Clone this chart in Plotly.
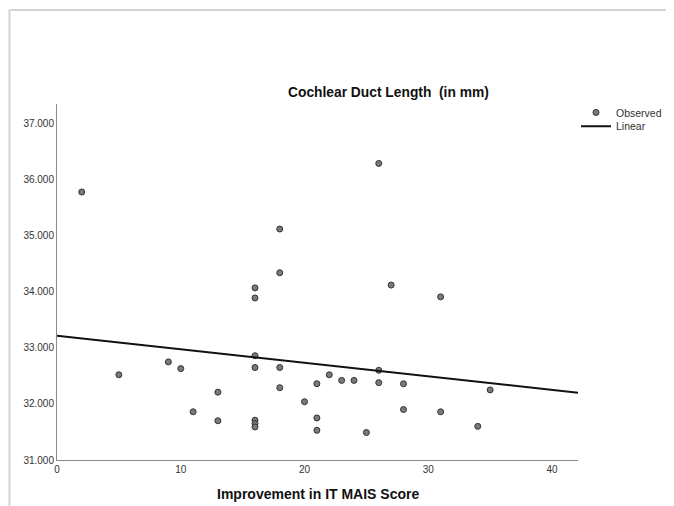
import plotly.graph_objects as go

# Observed data (Improvement in IT MAIS score vs cochlear duct length, mm)
improvement = [2, 18, 18, 16, 16, 16, 16, 18, 9, 10, 5, 13, 18, 20, 11, 13, 16, 16, 16,
               26, 27, 31, 26, 22, 21, 23, 24, 26, 28, 35, 21, 28, 31, 21, 25, 34]
duct_length = [35.78, 35.12, 34.34, 34.07, 33.89, 32.86, 32.65, 32.65, 32.75, 32.63, 32.52,
               32.21, 32.29, 32.04, 31.86, 31.70, 31.71, 31.65, 31.59,
               36.29, 34.12, 33.91, 32.60, 32.52, 32.36, 32.42, 32.42, 32.38, 32.36, 32.25,
               31.75, 31.90, 31.86, 31.53, 31.49, 31.60]

# Linear fit
fit_intercept = 33.215
fit_slope = -0.0241
fit_x = [0, 42.1]
fit_y = [fit_intercept + fit_slope * v for v in fit_x]

x_ticks = [0, 10, 20, 30, 40]
y_ticks = [31, 32, 33, 34, 35, 36, 37]

fig = go.Figure()
fig.add_trace(go.Scatter(
    x=improvement, y=duct_length, mode="markers", name="Observed", legend="legend",
    marker=dict(size=6, color="#7a7a7a", line=dict(color="#333333", width=1)),
))
fig.add_trace(go.Scatter(
    x=fit_x, y=fit_y, mode="lines", name="Linear", legend="legend2",
    line=dict(color="#111111", width=2),
))

legend_style = dict(xanchor="left", yanchor="top", font=dict(size=10.5, color="#333333"),
                    itemwidth=30, bgcolor="rgba(0,0,0,0)", borderwidth=0)

fig.update_layout(
    width=658, height=498,
    margin=dict(l=49, r=88, t=96, b=46, autoexpand=False),
    paper_bgcolor="white", plot_bgcolor="white",
    font=dict(family="Liberation Sans, Arial, sans-serif", size=10, color="#333333"),
    showlegend=True,
    legend=dict(x=0.9962, y=1.017, **legend_style),
    legend2=dict(x=0.9962, y=0.978, **legend_style),
    xaxis=dict(range=[0, 42.1], tickvals=x_ticks, showgrid=False, zeroline=False,
               showline=True, linecolor="#8a8a8a", linewidth=1, ticks="",
               tickfont=dict(size=10, color="#333333")),
    yaxis=dict(range=[31, 37.35], tickvals=y_ticks, tickformat=".3f", showgrid=False,
               zeroline=False, showline=True, linecolor="#8a8a8a", linewidth=1, ticks="",
               tickfont=dict(size=10, color="#333333")),
    annotations=[
        dict(text="<b>Cochlear Duct Length  (in mm)</b>", xref="paper", yref="paper",
             x=0.637, y=1.031, xanchor="center", yanchor="middle", showarrow=False,
             font=dict(size=13.8, color="#111111")),
        dict(text="<b>Improvement in IT MAIS Score</b>", xref="paper", yref="paper",
             x=0.501, y=-0.0955, xanchor="center", yanchor="middle", showarrow=False,
             font=dict(size=14, color="#111111")),
    ],
    shapes=[
        dict(type="line", xref="paper", yref="paper", x0=-0.0912, x1=1.3, y0=1.264, y1=1.264,
             line=dict(color="#d4d4d4", width=2)),
        dict(type="line", xref="paper", yref="paper", x0=-0.0912, x1=-0.0912, y0=1.264, y1=-0.2,
             line=dict(color="#d4d4d4", width=2)),
    ],
)

fig.write_html("out.html")
